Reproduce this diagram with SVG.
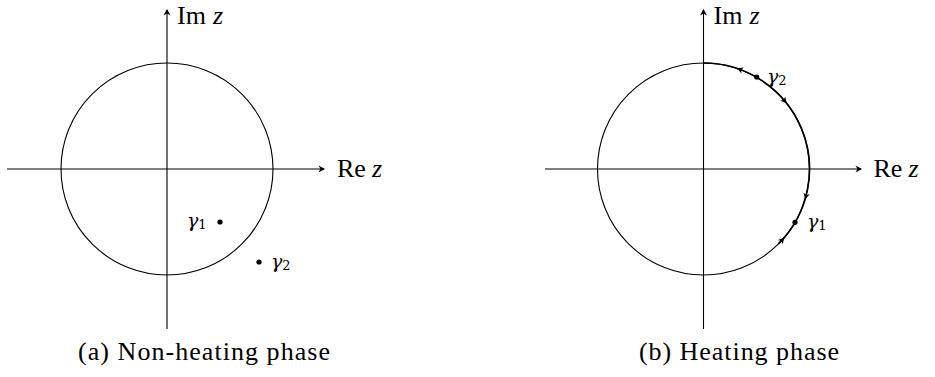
<svg xmlns="http://www.w3.org/2000/svg" width="935" height="377" viewBox="0 0 935 377">
<style>
.ax{stroke:#000;stroke-width:1.1;fill:none}
.circ{stroke:#000;stroke-width:1.1;fill:none}
.thick{stroke:#000;stroke-width:1.7;fill:none}
.lbl{font-family:"Liberation Serif","DejaVu Serif",serif;font-size:26px;fill:#000}
.gam{font-family:"DejaVu Serif","Liberation Serif",serif;font-size:19px;fill:#000}
.cap{font-family:"Liberation Serif","DejaVu Serif",serif;font-size:26px;fill:#000}
.it{font-style:italic}
</style>
<defs>
<marker id="ah" viewBox="-6 -4 8 8" refX="0" refY="0" markerWidth="8" markerHeight="8" markerUnits="userSpaceOnUse" orient="auto">
<path d="M1,0 L-5.5,-3.5 L-3.5,0 L-5.5,3.5 Z" fill="#000"/>
</marker>
<path id="fh" d="M3,0 L-3,-3.2 L-1.4,0 L-3,3.2 Z" fill="#000"/>
</defs>
<rect width="935" height="377" fill="#fff"/>

<g id="connectors">
<line class="ax" x1="7" y1="169" x2="324" y2="169" marker-end="url(#ah)"/>
<line class="ax" x1="167" y1="329" x2="167" y2="10" marker-end="url(#ah)"/>
<line class="ax" x1="545" y1="169" x2="861" y2="169" marker-end="url(#ah)"/>
<line class="ax" x1="703.5" y1="329" x2="703.5" y2="10" marker-end="url(#ah)"/>
</g>

<g id="panel-a">
<g id="circle-a"><circle class="circ" cx="167" cy="169" r="106"/></g>
<g id="label-im-a"><text class="lbl" x="177" y="24">Im<tspan class="it" x="213">z</tspan></text></g>
<g id="label-re-a"><text class="lbl" x="337" y="177">Re<tspan class="it" x="372">z</tspan></text></g>
<g id="gamma1-a">
<circle cx="220" cy="222" r="2.6" fill="#000"/>
<text class="gam" x="187" y="227"><tspan class="it">γ</tspan><tspan font-size="13" dy="2">1</tspan></text>
</g>
<g id="gamma2-a">
<circle cx="259" cy="262" r="2.6" fill="#000"/>
<text class="gam" x="271" y="268"><tspan class="it">γ</tspan><tspan font-size="13" dy="2">2</tspan></text>
</g>
<g id="caption-a"><text class="cap" x="78" y="360" textLength="252" lengthAdjust="spacing">(a) Non-heating phase</text></g>
</g>

<g id="panel-b">
<g id="circle-b"><circle class="circ" cx="703.5" cy="169" r="106"/></g>
<g id="arc-b"><path class="thick" d="M703.5,63 A106,106 0 0 1 778.45,243.95"/>
<use href="#fh" transform="translate(739.75,69.4) rotate(-160)"/>
<use href="#fh" transform="translate(784.7,100.9) rotate(50)"/>
<use href="#fh" transform="translate(805.9,196.4) rotate(105)"/>
<use href="#fh" transform="translate(782.3,239.9) rotate(-48)"/>
</g>
<g id="label-im-b"><text class="lbl" x="713.5" y="24">Im<tspan class="it" x="749.5">z</tspan></text></g>
<g id="label-re-b"><text class="lbl" x="873.5" y="177">Re<tspan class="it" x="908.5">z</tspan></text></g>
<g id="gamma2-b">
<circle cx="756.7" cy="77" r="2.6" fill="#000"/>
<text class="gam" x="767" y="83"><tspan class="it">γ</tspan><tspan font-size="13" dy="2">2</tspan></text>
</g>
<g id="gamma1-b">
<circle cx="795" cy="222.3" r="2.6" fill="#000"/>
<text class="gam" x="807" y="228"><tspan class="it">γ</tspan><tspan font-size="13" dy="2">1</tspan></text>
</g>
<g id="caption-b"><text class="cap" x="639" y="360" textLength="200" lengthAdjust="spacing">(b) Heating phase</text></g>
</g>
</svg>
